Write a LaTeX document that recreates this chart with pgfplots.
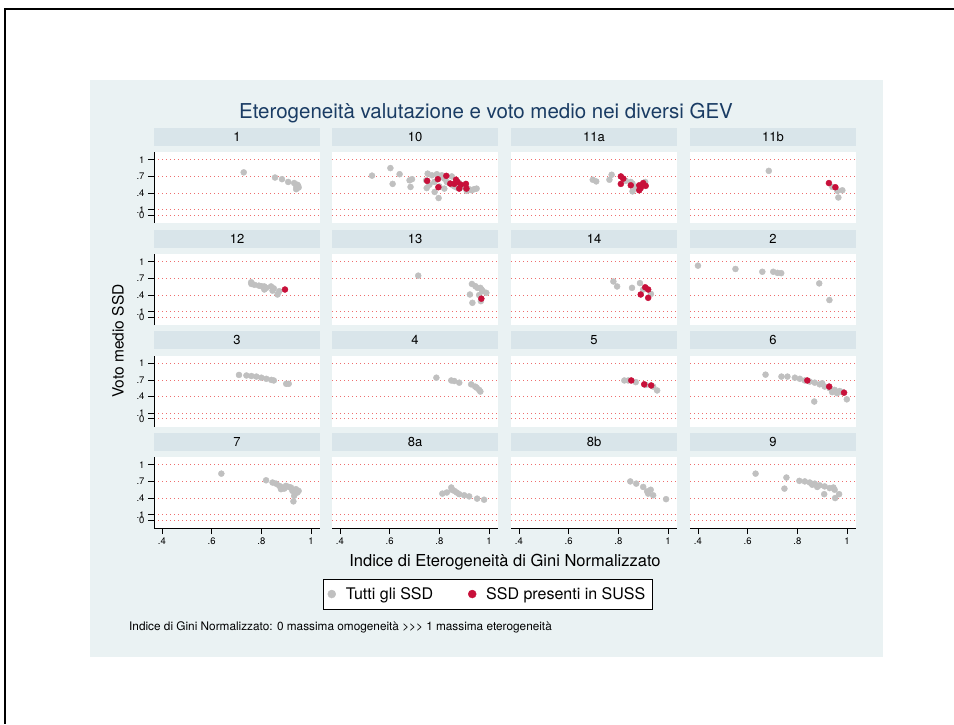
\documentclass[border=0pt]{standalone}
\usepackage{fontspec}
\setmainfont{TeX Gyre Heros}[Ligatures=TeXOff]
\usepackage{pgfplots}
\pgfplotsset{compat=1.18}

\definecolor{bg}{RGB}{234,242,243}
\definecolor{hdr}{RGB}{217,229,234}
\definecolor{ptgray}{RGB}{192,192,192}
\definecolor{ptred}{RGB}{200,16,58}
\definecolor{gridred}{RGB}{238,110,110}
\definecolor{ttl}{RGB}{26,60,100}

\pgfplotsset{
  panel/.style={
    scale only axis, width=166pt, height=71pt, anchor=north west,
    xmin=0.368, xmax=1.036, ymin=-0.14, ymax=1.14,
    axis background/.style={fill=white},
    axis x line*=bottom, axis y line*=left,
    x axis line style={draw=none,-}, y axis line style={draw=none,-},
    xtick={0.4,0.6,0.8,1}, xticklabels={},
    ytick={0,0.1,0.4,0.7,1}, yticklabels={},
    xtick style={draw=none}, ytick style={draw=none},
    ymajorgrids, grid style={gridred, line width=0.7pt, dash pattern=on 0.7pt off 3.3pt},
    major tick length=6pt, tick align=outside,
    tick label style={font=\fontsize{9.5}{11}\selectfont, black},
    title style={at={(0.5,1)}, anchor=south, fill=hdr, minimum width=166pt,
      minimum height=18pt, inner sep=0pt, font=\fontsize{13}{15}\selectfont},
  },
  leftcol/.style={y axis line style={draw=black, line width=0.8pt},
    ytick style={draw=black, line width=0.8pt},
    yticklabels={0,.1,.4,.7,1}},
  bottomrow/.style={x axis line style={draw=black, line width=0.8pt},
    xtick style={draw=black, line width=0.8pt},
    xticklabels={.4,.6,.8,1}},
  gr/.style={only marks, mark=*, mark size=3pt, color=ptgray},
  rd/.style={only marks, mark=*, mark size=3pt, color=ptred},
}

\begin{document}
\begin{tikzpicture}
\path[use as bounding box] (0,0) rectangle (954pt,-724pt);
\fill[white] (0,0) rectangle (954pt,-724pt);
\draw[black, line width=2pt] (4pt,-9pt) -- (954pt,-9pt);
\draw[black, line width=2pt] (5pt,-9pt) -- (5pt,-724pt);
\fill[bg] (90pt,-80pt) rectangle (883pt,-657pt);

\node[ttl, font=\fontsize{20.5}{24}\selectfont] at (486pt,-113pt) {Eterogeneità valutazione e voto medio nei diversi GEV};

% row 1
\begin{axis}[panel, leftcol, at={(154pt,-152pt)}, title={1}]
\addplot[gr] coordinates {(0.729,0.773) (0.855,0.68) (0.883,0.65) (0.908,0.60) (0.932,0.58) (0.941,0.51) (0.948,0.53) (0.94,0.47) (0.945,0.55) (0.95,0.50)};
\end{axis}
\begin{axis}[panel, at={(332pt,-152pt)}, title={10}]
\addplot[gr] coordinates {(0.529,0.714) (0.603,0.85) (0.64,0.74) (0.612,0.565) (0.68,0.63) (0.69,0.65) (0.684,0.51) (0.753,0.75) (0.747,0.63) (0.749,0.49) (0.781,0.42) (0.797,0.31) (0.77,0.72) (0.79,0.74) (0.80,0.68) (0.82,0.66) (0.83,0.60) (0.84,0.58) (0.85,0.55) (0.86,0.52) (0.87,0.50) (0.89,0.52) (0.90,0.50) (0.92,0.47) (0.93,0.45) (0.94,0.47) (0.91,0.44) (0.78,0.60) (0.76,0.55) (0.80,0.52) (0.82,0.48) (0.81,0.72) (0.85,0.70) (0.88,0.58) (0.95,0.48)};
\addplot[rd] coordinates {(0.751,0.62) (0.794,0.65) (0.796,0.505) (0.828,0.71) (0.844,0.57) (0.867,0.64) (0.86,0.565) (0.88,0.48) (0.887,0.55) (0.907,0.565) (0.909,0.48) (0.873,0.60)};
\end{axis}
\begin{axis}[panel, at={(511pt,-152pt)}, title={11a}]
\addplot[gr] coordinates {(0.697,0.64) (0.711,0.61) (0.764,0.64) (0.773,0.73) (0.857,0.57) (0.857,0.43) (0.87,0.50) (0.908,0.60) (0.83,0.62) (0.85,0.60)};
\addplot[rd] coordinates {(0.81,0.70) (0.82,0.66) (0.81,0.565) (0.85,0.54) (0.884,0.54) (0.89,0.49) (0.884,0.45) (0.91,0.53) (0.90,0.58)};
\end{axis}
\begin{axis}[panel, at={(690pt,-152pt)}, title={11b}]
\addplot[gr] coordinates {(0.685,0.80) (0.941,0.51) (0.961,0.44) (0.981,0.45) (0.965,0.32)};
\addplot[rd] coordinates {(0.927,0.58) (0.953,0.505)};
\end{axis}

% row 2
\begin{axis}[panel, leftcol, at={(154pt,-254pt)}, title={12}]
\addplot[gr] coordinates {(0.759,0.63) (0.772,0.585) (0.79,0.57) (0.80,0.56) (0.812,0.555) (0.812,0.50) (0.82,0.53) (0.839,0.555) (0.845,0.48) (0.865,0.41) (0.872,0.47) (0.76,0.60) (0.85,0.52)};
\addplot[rd] coordinates {(0.895,0.50)};
\end{axis}
\begin{axis}[panel, at={(332pt,-254pt)}, title={13}]
\addplot[gr] coordinates {(0.715,0.75) (0.931,0.60) (0.953,0.53) (0.965,0.53) (0.975,0.47) (0.989,0.44) (0.923,0.41) (0.933,0.26) (0.967,0.29) (0.96,0.40) (0.945,0.56) (0.97,0.50)};
\addplot[rd] coordinates {(0.969,0.335)};
\end{axis}
\begin{axis}[panel, at={(511pt,-254pt)}, title={14}]
\addplot[gr] coordinates {(0.78,0.645) (0.795,0.555) (0.855,0.53) (0.887,0.615) (0.90,0.50) (0.931,0.42)};
\addplot[rd] coordinates {(0.908,0.54) (0.92,0.50) (0.89,0.41) (0.92,0.35)};
\end{axis}
\begin{axis}[panel, at={(690pt,-254pt)}, title={2}]
\addplot[gr] coordinates {(0.40,0.93) (0.551,0.87) (0.659,0.82) (0.703,0.82) (0.72,0.80) (0.735,0.795) (0.888,0.61) (0.929,0.31)};
\end{axis}

% row 3
\begin{axis}[panel, leftcol, at={(154pt,-355.5pt)}, title={3}]
\addplot[gr] coordinates {(0.71,0.79) (0.74,0.78) (0.76,0.77) (0.78,0.76) (0.80,0.74) (0.82,0.72) (0.84,0.70) (0.85,0.69) (0.90,0.63) (0.91,0.63)};
\end{axis}
\begin{axis}[panel, at={(332pt,-355.5pt)}, title={4}]
\addplot[gr] coordinates {(0.788,0.74) (0.848,0.69) (0.86,0.68) (0.88,0.65) (0.928,0.62) (0.944,0.58) (0.95,0.56) (0.96,0.52) (0.965,0.49)};
\end{axis}
\begin{axis}[panel, at={(511pt,-355.5pt)}, title={5}]
\addplot[gr] coordinates {(0.824,0.69) (0.84,0.69) (0.87,0.66) (0.91,0.61) (0.956,0.51) (0.94,0.58)};
\addplot[rd] coordinates {(0.852,0.69) (0.904,0.62) (0.932,0.60)};
\end{axis}
\begin{axis}[panel, at={(690pt,-355.5pt)}, title={6}]
\addplot[gr] coordinates {(0.672,0.795) (0.736,0.76) (0.76,0.76) (0.79,0.74) (0.81,0.72) (0.83,0.69) (0.85,0.67) (0.87,0.65) (0.89,0.62) (0.91,0.58) (0.93,0.55) (0.95,0.52) (0.97,0.50) (0.868,0.31) (0.999,0.35) (0.90,0.64) (0.96,0.46) (0.94,0.48) (0.98,0.48)};
\addplot[rd] coordinates {(0.84,0.69) (0.928,0.58) (0.988,0.47)};
\end{axis}

% row 4
\begin{axis}[panel, leftcol, bottomrow, at={(154pt,-457pt)}, title={7},
  legend style={at={(2.009,-0.93)}, anchor=center, draw=black, fill=white,
    font=\fontsize{16}{19}\selectfont, legend columns=2,
    /tikz/every even column/.append style={column sep=33pt},
    /tikz/every odd column/.append style={column sep=8pt},
    inner xsep=4.5pt, inner ysep=6pt}]
\addlegendimage{only marks, mark=*, mark size=4pt, color=ptgray}
\addlegendentry{Tutti gli SSD}
\addlegendimage{only marks, mark=*, mark size=4pt, color=ptred}
\addlegendentry{SSD presenti in SUSS}
\addplot[gr] coordinates {(0.639,0.84) (0.819,0.72) (0.845,0.68) (0.859,0.66) (0.872,0.62) (0.879,0.56) (0.892,0.57) (0.899,0.62) (0.919,0.59) (0.925,0.53) (0.939,0.56) (0.945,0.50) (0.932,0.44) (0.929,0.34) (0.88,0.60) (0.91,0.60) (0.95,0.53)};
\end{axis}
\begin{axis}[panel, bottomrow, at={(332pt,-457pt)}, title={8a}]
\addplot[gr] coordinates {(0.812,0.48) (0.83,0.50) (0.848,0.59) (0.86,0.53) (0.87,0.50) (0.88,0.47) (0.90,0.45) (0.92,0.43) (0.952,0.39) (0.98,0.37) (0.85,0.55)};
\end{axis}
\begin{axis}[panel, bottomrow, at={(511pt,-457pt)}, title={8b}]
\addplot[gr] coordinates {(0.848,0.70) (0.872,0.66) (0.916,0.52) (0.92,0.48) (0.94,0.45) (0.93,0.55) (0.992,0.38) (0.90,0.60)};
\end{axis}
\begin{axis}[panel, bottomrow, at={(690pt,-457pt)}, title={9}]
\addplot[gr] coordinates {(0.632,0.84) (0.756,0.77) (0.748,0.57) (0.808,0.71) (0.83,0.70) (0.85,0.68) (0.87,0.66) (0.89,0.63) (0.91,0.61) (0.93,0.58) (0.945,0.59) (0.95,0.55) (0.908,0.47) (0.968,0.47) (0.952,0.40) (0.88,0.60) (0.86,0.64)};
\end{axis}

\node[rotate=90, font=\fontsize{15.5}{18}\selectfont] at (118pt,-341pt) {Voto medio SSD};
\node[font=\fontsize{16.5}{19}\selectfont] at (505pt,-562pt) {Indice di Eterogeneità di Gini Normalizzato};
\node[anchor=west, font=\fontsize{11.8}{14}\selectfont, inner sep=0pt] at (129pt,-627pt) {Indice di Gini Normalizzato: 0 massima omogeneità >\kern0pt>\kern0pt> 1 massima eterogeneità};
\end{tikzpicture}
\end{document}
